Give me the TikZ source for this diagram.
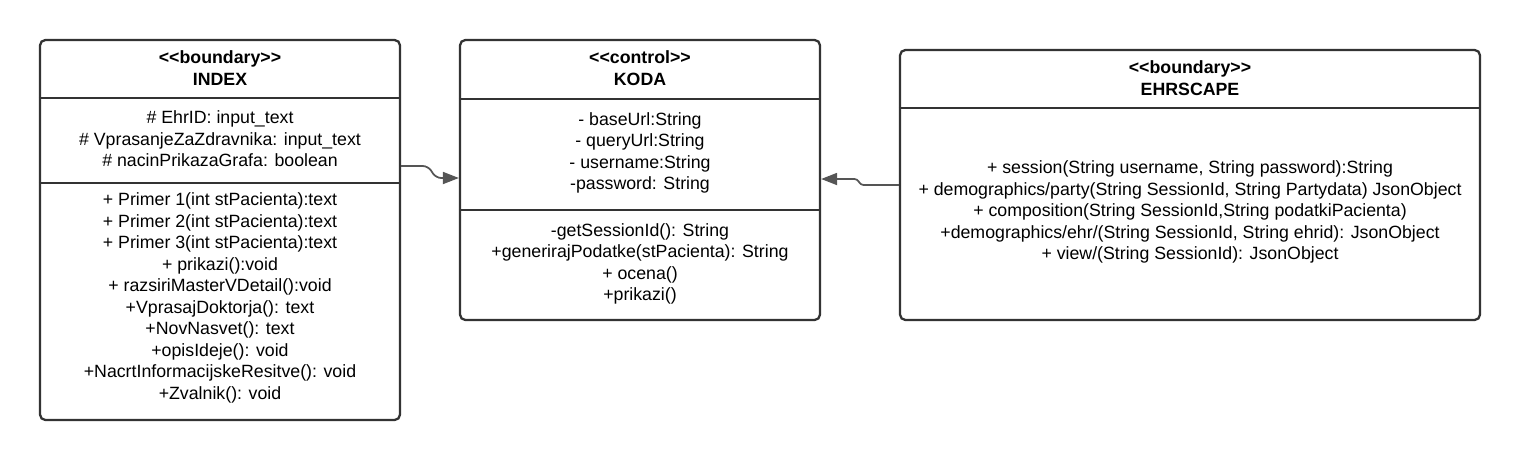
\documentclass[tikz,border=0pt]{standalone}
\usepackage{fontspec}
\setmainfont{Liberation Sans}
\usetikzlibrary{arrows.meta}
\definecolor{boxgray}{HTML}{333333}
\definecolor{arrowgray}{HTML}{555555}

\begin{document}
\begin{tikzpicture}[x=0.02cm, y=-0.02cm,
    umlbox/.style={draw=boxgray, line width=1.3pt, rounded corners=3pt, inner sep=0pt},
    sep/.style={draw=boxgray, line width=1.3pt},
    txt/.style={align=center, inner sep=0pt, font=\fontsize{10.1}{12.25}\selectfont},
    conn/.style={draw=arrowgray, line width=1pt, rounded corners=3pt,
        -{Triangle[length=0.32cm, width=0.24cm]}}]
    \useasboundingbox (0,0) rectangle (1520,460);

    % INDEX
    \node[umlbox, minimum width=7.2cm, minimum height=7.6cm] (index) at (220,230) {};
    \draw[sep] (index.west |- 0,98) -- (index.east |- 0,98);
    \draw[sep] (index.west |- 0,183) -- (index.east |- 0,183);
    \node[txt] (indexhead) at (220,68) {\textbf{<{}<boundary>{}>}\\\textbf{INDEX}};
    \node[txt] (indexattr) at (220,139) {\# EhrID: input\_text\\\# VprasanjeZaZdravnika: input\_text\\\# nacinPrikazaGrafa: boolean};
    \node[txt] (indexops) at (220,298) {+ Primer 1(int stPacienta):text\\+ Primer 2(int stPacienta):text\\+ Primer 3(int stPacienta):text\\+ prikazi():void\\+ razsiriMasterVDetail():void\\+VprasajDoktorja(): text\\+NovNasvet(): text\\+opisIdeje(): void\\+NacrtInformacijskeResitve(): void\\+Zvalnik(): void};

    % KODA
    \node[umlbox, minimum width=7.2cm, minimum height=5.6cm] (koda) at (640,180) {};
    \draw[sep] (koda.west |- 0,99) -- (koda.east |- 0,99);
    \draw[sep] (koda.west |- 0,210) -- (koda.east |- 0,210);
    \node[txt] (kodahead) at (640,68) {\textbf{<{}<control>{}>}\\\textbf{KODA}};
    \node[txt] (kodaattr) at (640,153) {- baseUrl:String\\- queryUrl:String\\- username:String\\-password: String};
    \node[txt] (kodaops) at (640,264) {-getSessionId(): String\\+generirajPodatke(stPacienta): String\\+ ocena()\\+prikazi()};

    % EHRSCAPE
    \node[umlbox, minimum width=11.6cm, minimum height=5.4cm] (ehr) at (1190,185) {};
    \draw[sep] (ehr.west |- 0,108) -- (ehr.east |- 0,108);
    \node[txt] (ehrhead) at (1190,78) {\textbf{<{}<boundary>{}>}\\\textbf{EHRSCAPE}};
    \node[txt] (ehrops) at (1190,212) {+ session(String username, String password):String\\+ demographics/party(String SessionId, String Partydata) JsonObject\\+ composition(String SessionId,String podatkiPacienta)\\+demographics/ehr/(String SessionId, String ehrid): JsonObject\\+ view/(String SessionId): JsonObject};

    % connectors
    \draw[conn] (index.east |- 0,166) -- (428,166) -- (436,178) -- (koda.west |- 0,178);
    \draw[conn, rounded corners=1.5pt] (ehr.west |- 0,185) -- (861,185) -- (857,179) -- (koda.east |- 0,179);
\end{tikzpicture}
\end{document}
